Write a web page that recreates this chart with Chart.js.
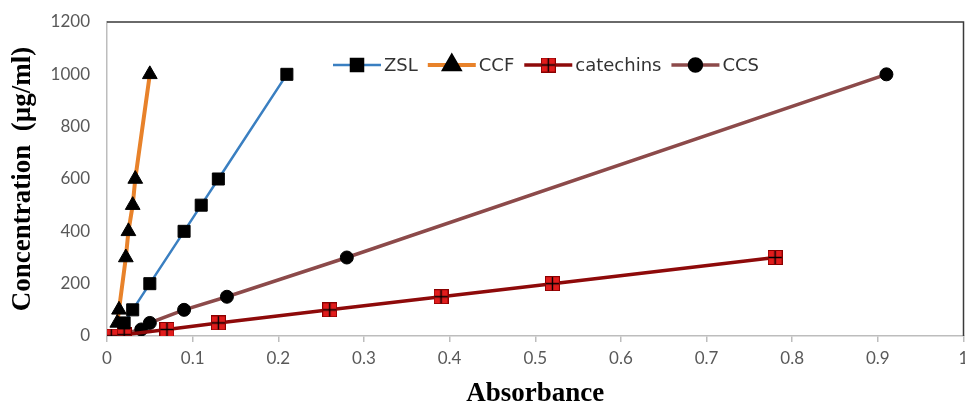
<!DOCTYPE html>
<html>
<head>
<meta charset="utf-8">
<script src="https://cdn.jsdelivr.net/npm/chart.js@4/dist/chart.umd.min.js"></script>
<style>
  html, body { margin: 0; padding: 0; background: #fff; overflow: hidden; }
  /* slightly wider than the window so the last x label is cut like the original */
  #wrap { width: 973px; height: 408px; }
</style>
</head>
<body>
<div id="wrap"><canvas id="calChart"></canvas></div>
<script>
// absorbance (x) / concentration (y)
const zslX = [0.02, 0.03, 0.05, 0.09, 0.11, 0.13, 0.21];
const zslY = [50, 100, 200, 400, 500, 600, 1000];

const ccfX = [0.012, 0.014, 0.022, 0.025, 0.03, 0.033, 0.05];
const ccfY = [50, 100, 300, 400, 500, 600, 1000];

const catX = [0.005, 0.02, 0.07, 0.13, 0.26, 0.39, 0.52, 0.78];
const catY = [0, 5, 25, 50, 100, 150, 200, 300];

const ccsX = [0.02, 0.04, 0.05, 0.09, 0.14, 0.28, 0.91];
const ccsY = [10, 25, 50, 100, 150, 300, 1000];

const seriesNames = ['ZSL', 'CCF', 'catechins', 'CCS'];
const xTicks = [0, 0.1, 0.2, 0.3, 0.4, 0.5, 0.6, 0.7, 0.8, 0.9, 1];
const yTicks = [0, 200, 400, 600, 800, 1000, 1200];

const pts = (xs, ys) => xs.map((x, i) => ({ x: x, y: ys[i] }));

// red square with a black cross, like the excel marker
function crossSquare(size) {
    const c = document.createElement('canvas');
    c.width = size; c.height = size;
    const g = c.getContext('2d');
    g.fillStyle = '#e11c1c';
    g.fillRect(0, 0, size, size);
    g.strokeStyle = '#8a0000';
    g.lineWidth = 1;
    g.strokeRect(0.5, 0.5, size - 1, size - 1);
    g.strokeStyle = '#000';
    g.lineWidth = 1.4;
    g.beginPath();
    g.moveTo(size / 2, 1); g.lineTo(size / 2, size - 1);
    g.moveTo(1, size / 2); g.lineTo(size - 1, size / 2);
    g.stroke();
    return c;
}
const catMarker = crossSquare(15);

// legend drawn as line + marker, top middle of the plot
const lineLegend = {
    id: 'lineLegend',
    afterDraw(chart) {
        const ctx = chart.ctx;
        let x = 333;
        const y = 65;
        ctx.save();
        ctx.font = '18px "DejaVu Sans"';
        ctx.textBaseline = 'middle';
        chart.data.datasets.forEach(ds => {
            ctx.strokeStyle = ds.borderColor;
            ctx.lineWidth = ds.borderWidth;
            ctx.beginPath();
            ctx.moveTo(x, y);
            ctx.lineTo(x + 48, y);
            ctx.stroke();
            ctx.fillStyle = ds.pointBackgroundColor;
            ctx.strokeStyle = ds.pointBorderColor;
            Chart.helpers.drawPoint(ctx, {
                pointStyle: ds.pointStyle,
                radius: ds.legendRadius,
                rotation: 0,
                borderWidth: 1
            }, x + 24, y);
            ctx.fillStyle = '#333';
            ctx.fillText(ds.label, x + 51, y + 1);
            x += 51 + ctx.measureText(ds.label).width + 10;
        });
        ctx.restore();
    }
};

// dark top/right edges of the plot box
const plotBox = {
    id: 'plotBox',
    beforeDatasetsDraw(chart) {
        const a = chart.chartArea;
        const ctx = chart.ctx;
        ctx.save();
        ctx.strokeStyle = '#3a3a3a';
        ctx.lineWidth = 1.5;
        ctx.beginPath();
        ctx.moveTo(a.left, a.top);
        ctx.lineTo(a.right, a.top);
        ctx.lineTo(a.right, a.bottom);
        ctx.stroke();
        ctx.restore();
    }
};

const ctx = document.getElementById('calChart').getContext('2d');
new Chart(ctx, {
    type: 'scatter',
    data: {
        datasets: [
            {
                label: seriesNames[0],
                data: pts(zslX, zslY),
                showLine: true,
                borderColor: '#3a7fc1',
                borderWidth: 2.5,
                pointStyle: 'rect',
                pointRadius: 8.5,
                legendRadius: 8.5,
                pointBackgroundColor: '#000',
                pointBorderColor: '#000',
                pointBorderWidth: 1
            },
            {
                label: seriesNames[1],
                data: pts(ccfX, ccfY),
                showLine: true,
                borderColor: '#e8822a',
                borderWidth: 4,
                pointStyle: 'triangle',
                pointRadius: 8.5,
                legendRadius: 8.5,
                pointBackgroundColor: '#000',
                pointBorderColor: '#000',
                pointBorderWidth: 1
            },
            {
                label: seriesNames[2],
                data: pts(catX, catY),
                showLine: true,
                borderColor: '#8e0a0a',
                borderWidth: 3.5,
                pointStyle: catMarker,
                pointRadius: 8,
                legendRadius: 8,
                pointBackgroundColor: '#e11c1c',
                pointBorderColor: '#8a0000',
                pointBorderWidth: 1
            },
            {
                label: seriesNames[3],
                data: pts(ccsX, ccsY),
                showLine: true,
                borderColor: '#8c4a4a',
                borderWidth: 3.5,
                pointStyle: 'circle',
                pointRadius: 6.5,
                legendRadius: 6,
                pointBackgroundColor: '#000',
                pointBorderColor: '#000',
                pointBorderWidth: 1
            }
        ]
    },
    options: {
        responsive: true,
        maintainAspectRatio: false,
        animation: false,
        layout: { padding: { top: 22, right: 2, left: 0, bottom: 0 } },
        plugins: {
            legend: { display: false },
            tooltip: { enabled: false }
        },
        scales: {
            x: {
                type: 'linear',
                min: 0,
                max: 1,
                afterBuildTicks: s => { s.ticks = xTicks.map(v => ({ value: v })); },
                afterFit: s => { s.height = 72; s.paddingLeft = 0; s.paddingRight = 0; },
                ticks: {
                    color: '#595959',
                    font: { family: 'Lato', size: 17 },
                    padding: 6,
                    maxRotation: 0,
                    autoSkip: false,
                    callback: v => String(Math.round(v * 10) / 10)
                },
                grid: {
                    drawOnChartArea: false,
                    drawTicks: true,
                    tickLength: 6,
                    color: '#bdbdbd',
                    lineWidth: 1.5
                },
                border: { color: '#bdbdbd', width: 1.5 },
                title: {
                    display: true,
                    text: 'Absorbance',
                    color: '#000',
                    font: { family: '"Liberation Serif"', size: 27, weight: 'bold', lineHeight: 1 },
                    padding: { top: 0, bottom: 0 }
                }
            },
            y: {
                type: 'linear',
                min: 0,
                max: 1200,
                afterBuildTicks: s => { s.ticks = yTicks.map(v => ({ value: v })); },
                afterFit: s => { s.width = 107; s.paddingTop = 0; s.paddingBottom = 0; },
                ticks: {
                    color: '#595959',
                    font: { family: 'Lato', size: 17 },
                    padding: 17,
                    callback: v => String(v)
                },
                grid: { display: false, drawTicks: false },
                border: { color: '#bdbdbd', width: 1.5 },
                title: {
                    display: true,
                    text: 'Concentration  (µg/ml)',
                    color: '#000',
                    font: { family: '"Liberation Serif"', size: 27, weight: 'bold', lineHeight: 1 },
                    padding: { top: 10, bottom: 0 }
                }
            }
        }
    },
    plugins: [plotBox, lineLegend]
});
</script>
</body>
</html>
